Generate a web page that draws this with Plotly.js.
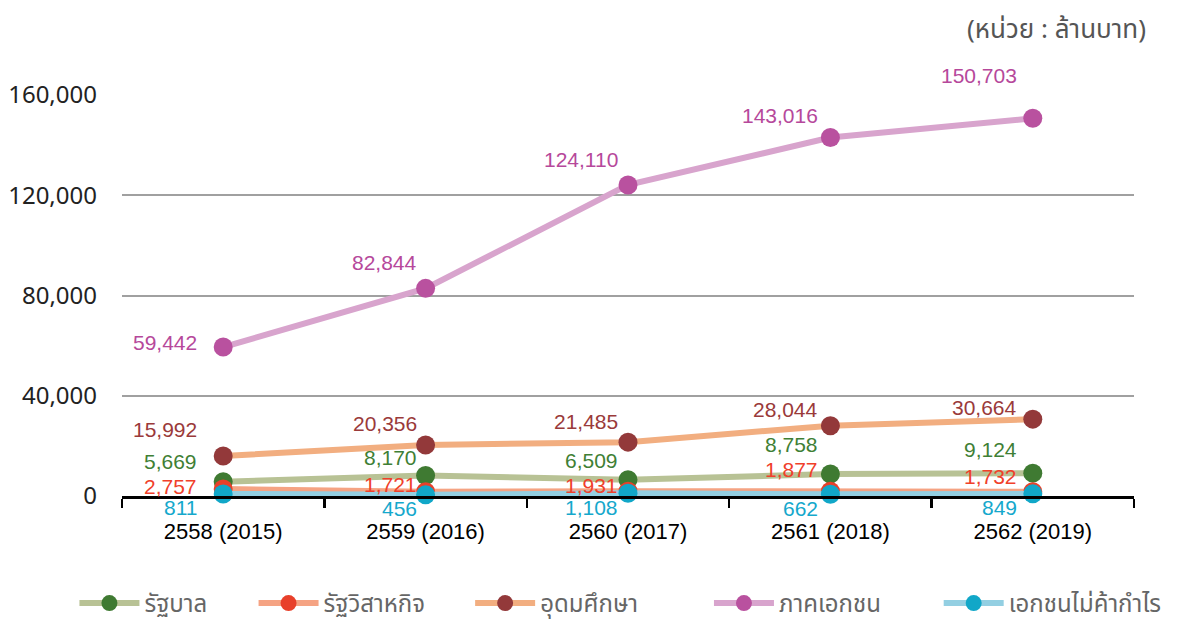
<!DOCTYPE html>
<html>
<head>
<meta charset="utf-8">
<script src="https://cdn.plot.ly/plotly-3.0.1.min.js"></script>
<style>html,body{margin:0;padding:0;background:#fff;}#chart{width:1184px;height:622px;}</style>
</head>
<body>
<div id="chart"></div>
<script>
// ---- data ----
var categories = ["2558 (2015)", "2559 (2016)", "2560 (2017)", "2561 (2018)", "2562 (2019)"];
var seriesNames = ["รัฐบาล", "รัฐวิสาหกิจ", "อุดมศึกษา", "ภาคเอกชน", "เอกชนไม่ค้ากำไร"];
var government      = [5669, 8170, 6509, 8758, 9124];
var stateEnterprise = [2757, 1721, 1931, 1877, 1732];
var higherEducation = [15992, 20356, 21485, 28044, 30664];
var privateSector   = [59442, 82844, 124110, 143016, 150703];
var nonProfit       = [811, 456, 1108, 662, 849];
var yTickValues = [0, 40000, 80000, 120000, 160000];
var unitText = "(หน่วย : ล้านบาท)";

// ---- styles ----
var lineColors   = ["#b8c295", "#f5a383", "#f2ae80", "#d8a4cd", "#93cfe2"];
var markerColors = ["#3f7a32", "#e8402a", "#93393a", "#b9519f", "#11a7c8"];
var labelColors  = ["#3f7f35", "#f0402a", "#9a3a3a", "#b6489b", "#15a8cc"];
// label nudges (pixels): per category horizontal, per series/category vertical
var labelDx = [-24, -7, -8, -10, -14];
var labelDy = [
  [20, 18, 19, 30, 24],
  [3, 7, 6, 22, 15],
  [26, 21, 21, 16, 12],
  [5, 26, 25, 22, 43],
  [-14, -14, -14, -14, -14]
];
// legend entry left edges (paper fraction)
var legendX = [-0.047, 0.130, 0.344, 0.580, 0.807];

var allSeries = [government, stateEnterprise, higherEducation, privateSector, nonProfit];
var thaiFont = "Tahoma, 'Noto Sans Thai', 'Noto Sans', sans-serif";

var traces = allSeries.map(function (vals, i) {
  return {
    type: "scatter",
    mode: "lines+markers",
    name: seriesNames[i],
    legend: i === 0 ? "legend" : "legend" + (i + 1),
    x: categories,
    y: vals,
    line: {color: lineColors[i], width: 6},
    marker: {color: markerColors[i], size: 19},
    cliponaxis: false,
    hoverinfo: "skip"
  };
});

var annotations = [];
allSeries.forEach(function (vals, i) {
  vals.forEach(function (v, j) {
    annotations.push({
      x: categories[j], y: v, xref: "x", yref: "y",
      text: v.toLocaleString("en-US"),
      showarrow: false, xanchor: "right", yanchor: "middle",
      xshift: labelDx[j], yshift: labelDy[i][j],
      font: {family: "'Liberation Sans', Arial, sans-serif", size: 21, color: labelColors[i]}
    });
  });
});
annotations.push({
  xref: "paper", yref: "paper", x: 1.014, y: 1.162, xanchor: "right", yanchor: "middle",
  text: unitText, showarrow: false,
  font: {family: thaiFont, size: 26, color: "#555"}
});

var layout = {
  width: 1184, height: 622,
  margin: {l: 122, r: 50, t: 95, b: 126, autoexpand: false},
  paper_bgcolor: "#fff", plot_bgcolor: "#fff",
  showlegend: true,
  xaxis: {
    type: "category", range: [-0.5, 4.5],
    showline: true, linecolor: "#000", linewidth: 2.5,
    ticks: "outside", tickson: "boundaries", ticklen: 9, tickwidth: 2.5, tickcolor: "#000",
    showgrid: false, zeroline: false,
    ticklabelstandoff: 14,
    tickfont: {family: "'Liberation Sans', Arial, sans-serif", size: 22, color: "#000"}
  },
  yaxis: {
    range: [0, 160000], tickvals: yTickValues,
    tickformat: ",d",
    showgrid: true, gridcolor: "#a0a0a0", gridwidth: 2,
    zeroline: false, showline: false, ticks: "",
    ticklabelstandoff: 24,
    tickfont: {family: "'Noto Sans', sans-serif", size: 24, color: "#222"}
  },
  annotations: annotations
};
legendX.forEach(function (lx, i) {
  layout[i === 0 ? "legend" : "legend" + (i + 1)] = {
    orientation: "h", x: lx, xanchor: "left", y: -0.268, yanchor: "middle",
    itemwidth: 60, bgcolor: "rgba(0,0,0,0)",
    font: {family: thaiFont, size: 24, color: "#666"}
  };
});

Plotly.newPlot("chart", traces, layout, {displayModeBar: false, staticPlot: true});
</script>
</body>
</html>
